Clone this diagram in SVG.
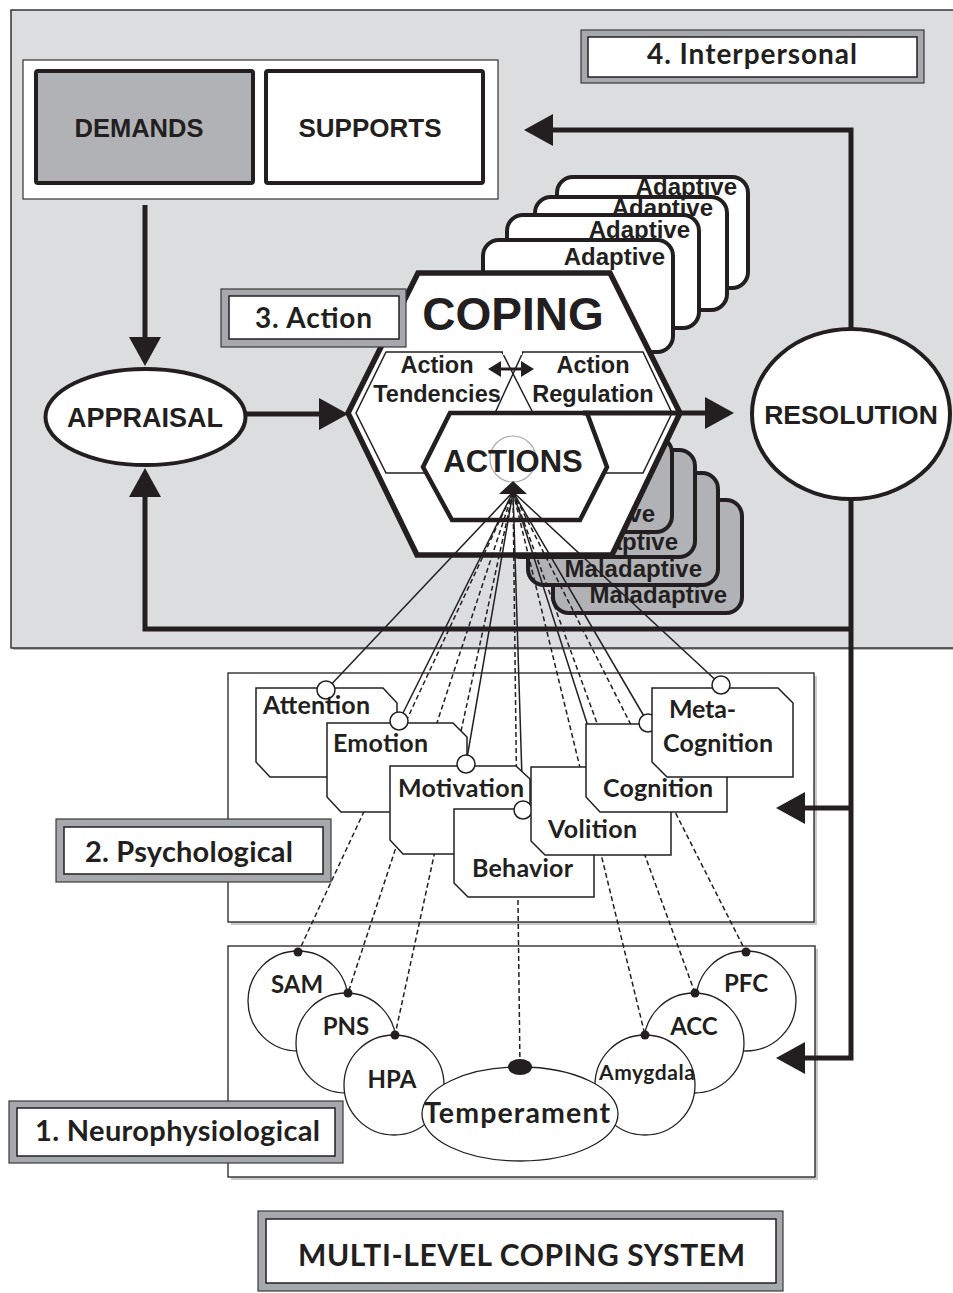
<svg xmlns="http://www.w3.org/2000/svg" width="953" height="1293" viewBox="0 0 953 1293">
<style>
.sans{font-family:"Liberation Sans",Arial,sans-serif;font-weight:bold;fill:#231f20}
.cal{font-family:Lato,"Open Sans",sans-serif;font-weight:bold;fill:#231f20}
.thick{stroke:#231f20;stroke-width:5;fill:none}
.card{fill:#fff;stroke:#231f20;stroke-width:4}
.mcard{fill:#b1b2b5;stroke:#231f20;stroke-width:4}
.psy{fill:#fff;stroke:#231f20;stroke-width:1.5}
.pin{fill:#fff;stroke:#231f20;stroke-width:1.5}
.dot{fill:#231f20}
.solid{stroke:#231f20;stroke-width:1.5;fill:none}
.dash{stroke:#231f20;stroke-width:1.5;stroke-dasharray:5 3;fill:none}
.lblo{fill:#a7a8ab;stroke:#3a3a3a;stroke-width:1.2}
.lbli{fill:#fff;stroke:#231f20;stroke-width:1.5}
.neuro{fill:#fff;stroke:#231f20;stroke-width:1.3}
.frame{fill:#fff;stroke:#231f20;stroke-width:1.3}
.shadow{fill:#c9c9cb}
.thin{fill:none;stroke:#231f20;stroke-width:1.5}
</style>
<defs>
<marker id="ah" markerUnits="userSpaceOnUse" markerWidth="30" markerHeight="32" refX="1" refY="16" orient="auto" viewBox="0 0 30 32"><path d="M0,0 L29,16 L0,32 z" fill="#231f20"/></marker>
<marker id="ahs" markerUnits="userSpaceOnUse" markerWidth="13" markerHeight="16" refX="1" refY="8" orient="auto-start-reverse" viewBox="0 0 13 16"><path d="M0,0 L13,8 L0,16 z" fill="#231f20"/></marker>
</defs>
<rect x="0" y="0" width="953" height="1293" fill="#fff"/>

<g id="panel-interpersonal">
<rect x="13" y="12" width="960" height="638" fill="#b9babc"/>
<rect x="11" y="10" width="960" height="638" fill="#dcdddf" stroke="#333" stroke-width="1.5"/>
</g>

<g id="demands-supports">
<rect x="23" y="60" width="475" height="139" fill="#fff" stroke="#333" stroke-width="1.2"/>
<rect x="36" y="71" width="217" height="112" rx="2" fill="#b1b2b5" stroke="#231f20" stroke-width="4"/>
<text x="139" y="137" class="sans" font-size="25.5" text-anchor="middle">DEMANDS</text>
<rect x="266" y="71" width="217" height="112" rx="2" fill="#fff" stroke="#231f20" stroke-width="4"/>
<text x="370" y="137" class="sans" font-size="26" text-anchor="middle">SUPPORTS</text>
</g>

<g id="appraisal">
<ellipse cx="145.5" cy="417" rx="100" ry="48" fill="#fff" stroke="#231f20" stroke-width="4"/>
<text x="145" y="427" class="sans" font-size="27" text-anchor="middle">APPRAISAL</text>
</g>

<g id="resolution">
<ellipse cx="851" cy="414" rx="99" ry="85" fill="#fff" stroke="#231f20" stroke-width="4"/>
<text x="851" y="424" class="sans" font-size="26.5" text-anchor="middle">RESOLUTION</text>
</g>

<g id="adaptive-stack">
<rect x="557" y="177" width="191" height="111" rx="16" class="card"/>
<text x="737" y="195" class="sans" font-size="24" text-anchor="end">Adaptive</text>
<rect x="535" y="197" width="192" height="113" rx="16" class="card"/>
<text x="713" y="216" class="sans" font-size="24" text-anchor="end">Adaptive</text>
<rect x="507" y="215" width="192" height="113" rx="16" class="card"/>
<text x="690" y="238" class="sans" font-size="24" text-anchor="end">Adaptive</text>
<rect x="483" y="240" width="190" height="112" rx="16" class="card"/>
<text x="665" y="265" class="sans" font-size="24" text-anchor="end">Adaptive</text>
</g>

<g id="maladaptive-stack">
<rect x="553" y="500" width="189" height="113" rx="16" class="mcard"/>
<text x="727" y="603" class="sans" font-size="24" text-anchor="end">Maladaptive</text>
<rect x="528" y="473" width="190" height="112" rx="16" class="mcard"/>
<text x="702" y="577" class="sans" font-size="24" text-anchor="end">Maladaptive</text>
<rect x="505" y="450" width="190" height="107" rx="16" class="mcard"/>
<text x="678" y="550" class="sans" font-size="24" text-anchor="end">Maladaptive</text>
<rect x="482" y="437" width="190" height="95" rx="16" class="mcard"/>
<text x="655" y="522" class="sans" font-size="24" text-anchor="end">Maladaptive</text>
</g>

<g id="coping">
<polygon points="418,273 610,273 680,413 612,555 417,555 348,413" fill="#fff" stroke="#231f20" stroke-width="5.5" stroke-linejoin="miter"/>
<text x="513" y="330" class="sans" font-size="46" text-anchor="middle">COPING</text>
<polygon points="386,352 643,352 672,413 643,473 386,473 356,413" class="thin"/>
<line x1="502" y1="352" x2="533" y2="413" class="thin"/>
<line x1="523" y1="352" x2="495" y2="413" class="thin"/>
<rect x="503" y="349" width="19" height="6" fill="#fff"/>
<text x="437" y="373" class="sans" font-size="23.5" text-anchor="middle">Action</text>
<text x="437" y="402" class="sans" font-size="23.5" text-anchor="middle">Tendencies</text>
<text x="593" y="373" class="sans" font-size="23.5" text-anchor="middle">Action</text>
<text x="593" y="402" class="sans" font-size="23.5" text-anchor="middle">Regulation</text>
<line x1="500" y1="369" x2="522" y2="369" stroke="#231f20" stroke-width="3" marker-start="url(#ahs)" marker-end="url(#ahs)"/>
<g id="actions">
<polygon points="450,413 587,413 607,467 580,520 452,520 423,467" fill="#fff" stroke="#231f20" stroke-width="4.5"/>
<circle cx="513" cy="459" r="23" fill="none" stroke="#aaa" stroke-width="1.2"/>
<text x="513" y="472" class="sans" font-size="31" text-anchor="middle">ACTIONS</text>
</g>
</g>

<g id="label-action">
<rect x="221" y="289" width="185" height="58" class="lblo"/>
<rect x="229" y="296" width="170" height="43" class="lbli"/>
<text x="255" y="328" class="cal" font-size="28" textLength="117">3. Action</text>
</g>

<g id="label-interpersonal">
<rect x="581" y="30" width="343" height="53" class="lblo"/>
<rect x="588" y="37" width="329" height="40" class="lbli"/>
<text x="647" y="64" class="cal" font-size="28" textLength="210">4. Interpersonal</text>
</g>

<g id="psych-frame">
<rect x="231" y="676" width="586" height="249" class="shadow"/>
<rect x="228" y="673" width="586" height="249" class="frame"/>
</g>
<g id="neuro-frame">
<rect x="231" y="949" width="587" height="231" class="shadow"/>
<rect x="228" y="946" width="587" height="231" class="frame"/>
</g>

<g id="connectors">
<path d="M145,205 V338" class="thick" marker-end="url(#ah)"/>
<path d="M246,414 H320" class="thick" marker-end="url(#ah)"/>
<path d="M583,413 H706" class="thick" marker-end="url(#ah)"/>
<path d="M851,330 V130 H552" class="thick" marker-end="url(#ah)"/>
<path d="M851,629 H145 V496" class="thick" marker-end="url(#ah)"/>
<path d="M851,499 V1058 H804" class="thick" marker-end="url(#ah)"/>
<path d="M851,808 H804" class="thick" marker-end="url(#ah)"/>
<g id="fan">
<line x1="513" y1="492" x2="298" y2="953" class="dash"/>
<line x1="513" y1="492" x2="348" y2="993" class="dash"/>
<line x1="513" y1="492" x2="395" y2="1035" class="dash"/>
<line x1="513" y1="492" x2="520" y2="1067" class="dash"/>
<line x1="513" y1="492" x2="645" y2="1035" class="dash"/>
<line x1="513" y1="492" x2="695" y2="993" class="dash"/>
<line x1="513" y1="492" x2="746" y2="952" class="dash"/>
<line x1="513" y1="492" x2="326" y2="690" class="solid"/>
<line x1="513" y1="492" x2="399" y2="721" class="solid"/>
<line x1="513" y1="492" x2="466" y2="764" class="solid"/>
<line x1="513" y1="492" x2="523" y2="810" class="solid"/>
<line x1="513" y1="492" x2="601" y2="767" class="solid"/>
<line x1="513" y1="492" x2="648" y2="723" class="solid"/>
<line x1="513" y1="492" x2="721" y2="685" class="solid"/>
<polygon points="513,481 527,494 499,494" fill="#231f20"/>
</g>
</g>

<g id="psychological">
<g id="attention">
<polygon points="256,688 383,688 397,703 397,777 270,777 256,762" class="psy"/>
<circle cx="326" cy="690" r="9" class="pin"/>
<text x="263" y="714" class="cal" font-size="25" textLength="107">Attention</text>
</g>
<g id="emotion">
<polygon points="327,723 453,723 467,737 467,812 341,812 327,797" class="psy"/>
<circle cx="399" cy="721" r="9" class="pin"/>
<text x="333" y="752" class="cal" font-size="25" textLength="95">Emotion</text>
</g>
<g id="motivation">
<polygon points="390,766 516,766 530,779 530,854 403,854 390,840" class="psy"/>
<circle cx="466" cy="764" r="9" class="pin"/>
<text x="398" y="797" class="cal" font-size="25" textLength="126">Motivation</text>
</g>
<g id="behavior">
<polygon points="454,809 580,809 594,823 594,897 468,897 454,883" class="psy"/>
<circle cx="523" cy="810" r="9" class="pin"/>
<text x="472" y="877" class="cal" font-size="25" textLength="101">Behavior</text>
</g>
<g id="volition">
<polygon points="531,767 657,767 671,781 671,855 545,855 531,841" class="psy"/>
<circle cx="601" cy="767" r="9" class="pin"/>
<text x="548" y="838" class="cal" font-size="25" textLength="89">Volition</text>
</g>
<g id="cognition">
<polygon points="586,724 713,724 727,738 727,812 600,812 586,797" class="psy"/>
<circle cx="648" cy="723" r="9" class="pin"/>
<text x="603" y="797" class="cal" font-size="25" textLength="110">Cognition</text>
</g>
<g id="metacognition">
<polygon points="652,688 778,688 793,703 793,777 667,777 652,762" class="psy"/>
<circle cx="721" cy="685" r="9" class="pin"/>
<text x="669" y="718" class="cal" font-size="25" textLength="67">Meta-</text>
<text x="663" y="752" class="cal" font-size="25" textLength="110">Cognition</text>
</g>
</g>

<g id="neurophysiological">
<g id="sam"><circle cx="298" cy="1001" r="50" class="neuro"/><text x="297" y="993" class="cal" font-size="24" text-anchor="middle">SAM</text><circle cx="298" cy="952" r="4.5" class="dot"/></g>
<g id="pns"><circle cx="346" cy="1043" r="50" class="neuro"/><text x="346" y="1035" class="cal" font-size="24" text-anchor="middle">PNS</text><circle cx="348" cy="993" r="4.5" class="dot"/></g>
<g id="hpa"><circle cx="394" cy="1085" r="50" class="neuro"/><text x="392" y="1088" class="cal" font-size="24" text-anchor="middle">HPA</text><circle cx="395" cy="1035" r="4.5" class="dot"/></g>
<g id="pfc"><circle cx="746" cy="1001" r="50" class="neuro"/><text x="746" y="992" class="cal" font-size="24" text-anchor="middle">PFC</text><circle cx="746" cy="952" r="4.5" class="dot"/></g>
<g id="acc"><circle cx="694" cy="1043" r="50" class="neuro"/><text x="694" y="1035" class="cal" font-size="24" text-anchor="middle">ACC</text><circle cx="695" cy="993" r="4.5" class="dot"/></g>
<g id="amygdala"><circle cx="645" cy="1085" r="50" class="neuro"/><text x="599" y="1080" class="cal" font-size="21" textLength="96">Amygdala</text><circle cx="645" cy="1035" r="4.5" class="dot"/></g>
<g id="temperament"><ellipse cx="520" cy="1114" rx="98" ry="47" class="neuro"/><text x="424" y="1123" class="cal" font-size="28.5" textLength="186">Temperament</text><ellipse cx="520" cy="1067" rx="12" ry="8" class="dot"/></g>
</g>

<g id="label-psychological">
<rect x="56" y="819" width="275" height="63" class="lblo"/>
<rect x="64" y="827" width="259" height="47" class="lbli"/>
<text x="85" y="862" class="cal" font-size="29" textLength="208">2. Psychological</text>
</g>
<g id="label-neuro">
<rect x="9" y="1101" width="334" height="62" class="lblo"/>
<rect x="17" y="1108" width="318" height="48" class="lbli"/>
<text x="35" y="1141" class="cal" font-size="29" textLength="285">1. Neurophysiological</text>
</g>
<g id="title">
<rect x="258" y="1211" width="525" height="80" class="lblo"/>
<rect x="266" y="1219" width="510" height="64" class="lbli"/>
<text x="298" y="1266" class="cal" font-size="30" textLength="447">MULTI-LEVEL COPING SYSTEM</text>
</g>
</svg>
